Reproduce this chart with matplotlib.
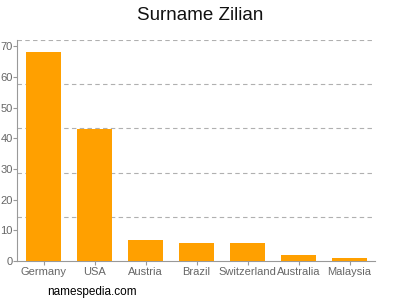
import matplotlib
matplotlib.use("Agg")
import matplotlib.pyplot as plt
import numpy as np

# data
countries = ["Germany", "USA", "Austria", "Brazil", "Switzerland", "Australia", "Malaysia"]
counts = [68, 43, 7, 6, 6, 2, 1]
y_ticks = [0, 10, 20, 30, 40, 50, 60, 70]
y_top = 72

plt.rcParams['font.family'] = ['Liberation Sans', 'DejaVu Sans']

fig = plt.figure(figsize=(4, 3), dpi=100)
ax = fig.add_axes([0.0425, 0.13, 0.895, 0.7367])

x = np.arange(len(countries))
ax.bar(x, counts, width=0.69, color='#ffa000', zorder=3)

# dashed grid at fifths of the axis height
for g in np.linspace(0, y_top, 6)[1:]:
    ax.axhline(g, color='#b0b0b0', linestyle=(0, (4, 3)), linewidth=0.8, zorder=1)

ax.set_xlim(-0.52, 6.5)
ax.set_ylim(0, y_top)
ax.set_yticks(y_ticks)
ax.set_xticks(x)
ax.set_xticklabels(countries)

for s in ['top', 'right']:
    ax.spines[s].set_visible(False)
for s in ['left', 'bottom']:
    ax.spines[s].set_color('#999999')
    ax.spines[s].set_linewidth(0.8)
ax.tick_params(axis='both', colors='#999999', labelcolor='#666666', labelsize=8, length=3, width=0.8)
ax.tick_params(axis='y', pad=0)
ax.tick_params(axis='x', pad=1.5)

fig.text(0.5, 0.95, "Surname Zilian", ha='center', va='center', fontsize=13.5, color='#111111')
fig.text(0.118, 0.027, "namespedia.com", ha='left', va='center', fontsize=8.5, color='#000000')

fig.savefig("out.png", dpi=100)
